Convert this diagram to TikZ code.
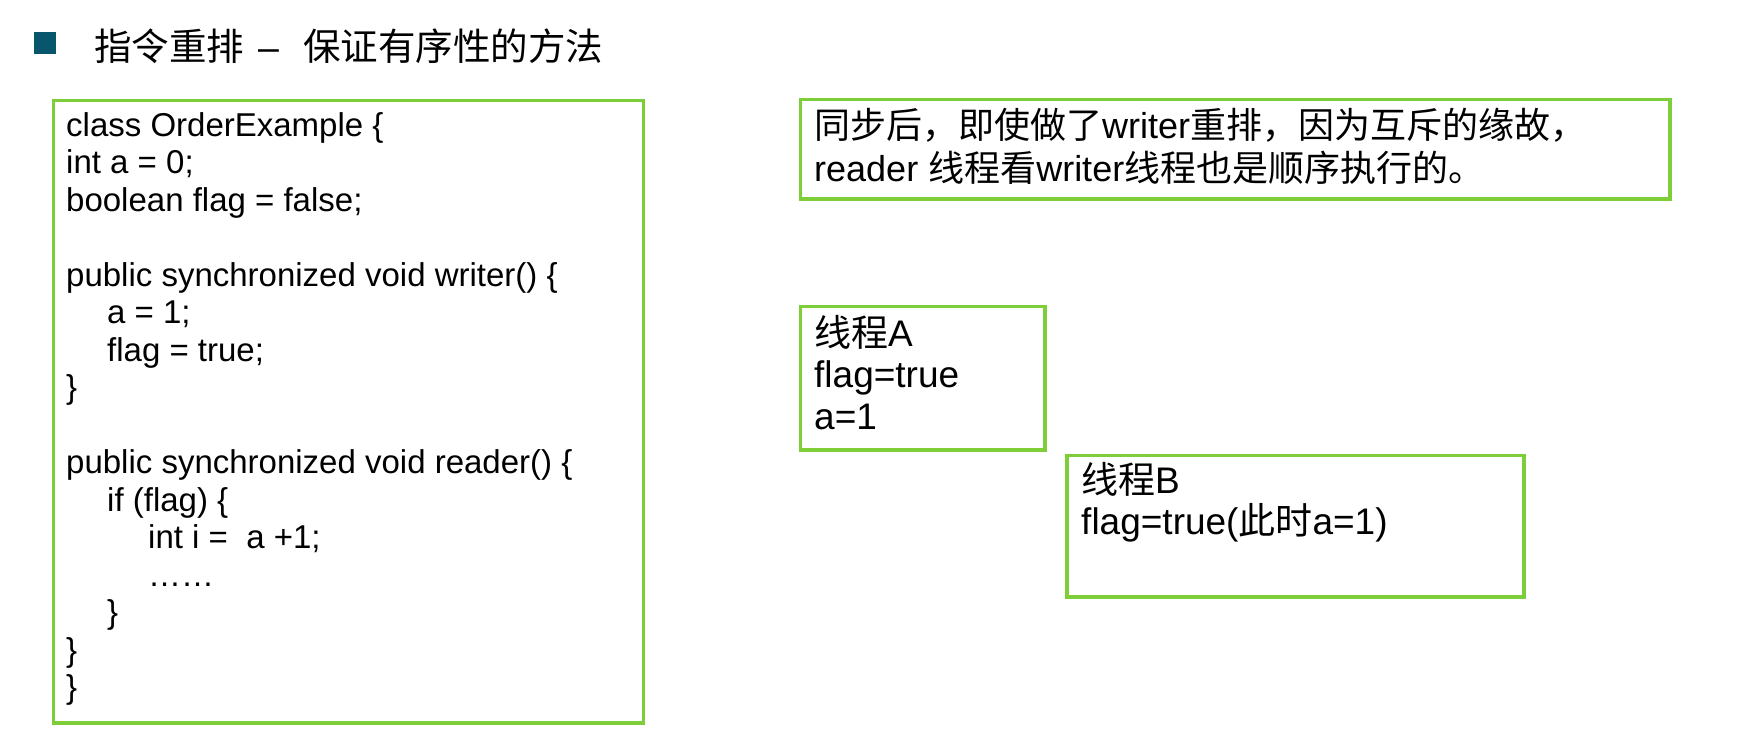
\documentclass[tikz,border=0pt]{standalone}
\usepackage{fontspec}
\setmainfont{Liberation Sans}
\newfontfamily\cjk{Noto Sans CJK SC}
\usepackage{tikz}
\usetikzlibrary{positioning}
\definecolor{boxgreen}{RGB}{126,206,58}
\definecolor{markteal}{RGB}{8,86,108}
\tikzset{
  % 绿色方框
  panel/.style={draw=boxgreen, line width=3.5pt, inner sep=0pt, anchor=north west},
  % 标题前的小方块
  bullet/.style={fill=markteal, inner sep=0pt, minimum size=22pt},
  % 文字样式
  title/.style={anchor=base west, inner sep=0pt, font=\fontsize{37.5}{40}\selectfont},
  codeline/.style={anchor=base west, inner sep=0pt, font=\fontsize{33}{37.5}\selectfont},
  note/.style={anchor=base west, inner sep=0pt, font=\fontsize{36}{36}\selectfont},
  state/.style={anchor=base west, inner sep=0pt, font=\fontsize{37}{41}\selectfont},
}
\begin{document}
\begin{tikzpicture}[x=1pt, y=-1pt]
  \useasboundingbox (0,0) rectangle (1740,748);

  % Title
  \node[bullet] (mark) at (45,43) {};
  \node[title] (title) at (94,60) {{\cjk 指令重排}\hspace{14pt}–\hspace{24pt}{\cjk 保证有序性的方法}};

  % Boxes
  \node[panel, minimum width=590pt, minimum height=622.5pt] (codebox) at (51.5,98.5) {};
  \node[panel, minimum width=869.5pt, minimum height=99.5pt] (notebox) at (798.5,97.5) {};
  \node[panel, minimum width=244.5pt, minimum height=143.5pt] (boxA) at (798.5,304.5) {};
  \node[panel, minimum width=457pt, minimum height=141.5pt] (boxB) at (1065,453.5) {};

  % Code
  \foreach \row/\lvl/\txt in {0/0/{class OrderExample \{}, 1/0/{int a = 0;},
      2/0/{boolean flag = false;}, 4/0/{public synchronized void writer() \{},
      5/1/{a = 1;}, 6/1/{flag = true;}, 7/0/{\}},
      9/0/{public synchronized void reader() \{}, 10/1/{if (flag) \{},
      11/2/{int i = \ a +1;}, 12/2/{……}, 13/1/{\}}, 14/0/{\}}, 15/0/{\}}}
    \node[codeline] (code\row) at ({66+41*\lvl},{136+37.5*\row}) {\txt};

  % Notes
  \node[note] (note1) at (814,138) {{\cjk 同步后，即使做了}writer{\cjk 重排，因为互斥的缘故，}};
  \node[note] (note2) at (814,181) {reader {\cjk 线程看}writer{\cjk 线程也是顺序执行的。}};

  % Thread A
  \node[state] (a1) at (814,346) {{\cjk 线程}A};
  \node[state] (a2) at (814,387.5) {flag=true};
  \node[state] (a3) at (814,429) {a=1};

  % Thread B
  \node[state] (b1) at (1081,493) {{\cjk 线程}B};
  \node[state] (b2) at (1081,534) {flag=true({\cjk 此时}a=1)};
\end{tikzpicture}
\end{document}
